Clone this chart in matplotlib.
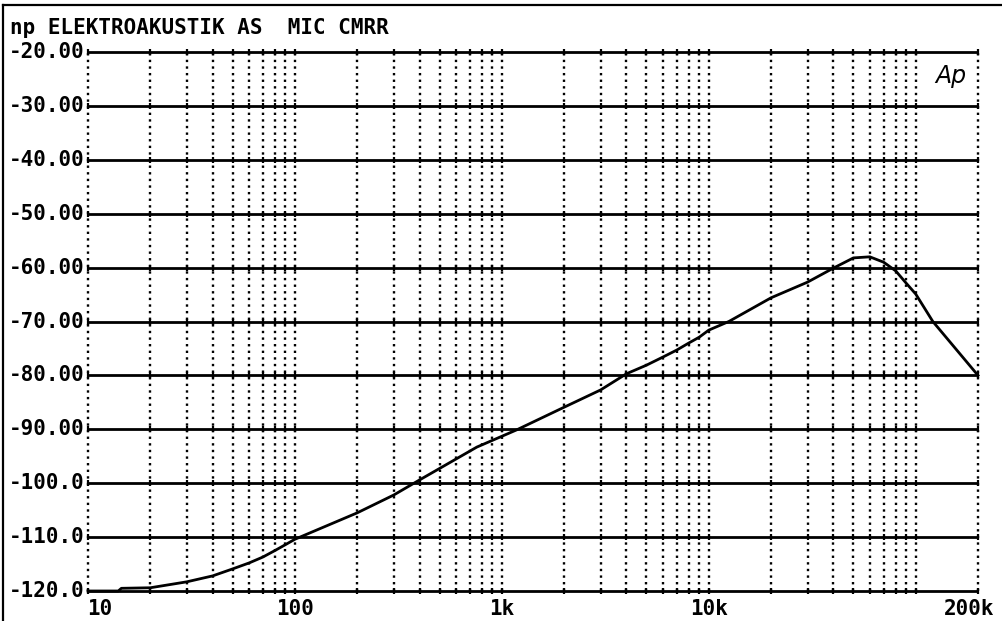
import numpy as np
import matplotlib.pyplot as plt
from matplotlib.lines import Line2D

# curve data (Hz, dB)
freq = [10, 14, 14.5, 20, 30, 40, 50, 60, 70, 80, 90, 100, 200, 300, 400, 757,
        1180, 2000, 3000, 4000, 5000, 6000, 7000, 8000, 9000, 10000, 12500,
        20000, 30000, 40000, 50000, 60000, 70000, 80000, 90000, 100000,
        121000, 200000]
level = [-120.0, -120.0, -119.5, -119.4, -118.3, -117.2, -115.9, -114.8, -113.7,
         -112.5, -111.4, -110.4, -105.5, -102.2, -99.4, -93.3,
         -90.1, -85.9, -82.7, -79.7, -78.1, -76.6, -75.3, -74.0, -72.9, -71.6, -70.0,
         -65.6, -62.7, -60.1, -58.2, -58.0, -59.0, -60.6, -62.9, -64.9,
         -70.0, -80.0]

title = "np ELEKTROAKUSTIK AS  MIC CMRR"
y_ticks = [-20, -30, -40, -50, -60, -70, -80, -90, -100, -110, -120]
y_labels = ["-20.00", "-30.00", "-40.00", "-50.00", "-60.00", "-70.00",
            "-80.00", "-90.00", "-100.0", "-110.0", "-120.0"]
x_ticks = [10, 100, 1000, 10000, 200000]
x_labels = ["10", "100", "1k", "10k", "200k"]

plt.rcParams['font.family'] = 'DejaVu Sans Mono'

W, H = 1002, 621
fig = plt.figure(figsize=(W / 100, H / 100), dpi=100)
ax = fig.add_axes([88 / W, (H - 591) / H, (978 - 88) / W, (591 - 52) / H])
ax.set_xscale('log')
ax.set_xlim(10, 200000)
ax.set_ylim(-120, -20)
for s in ax.spines.values():
    s.set_visible(False)
ax.set_xticks([])
ax.set_yticks([])
ax.minorticks_off()

# vertical dotted grid: 10,20..90 each decade up to 200k
vgrid = [m * 10 ** d for d in range(1, 5) for m in range(1, 10)] + [100000, 200000]
for f in vgrid:
    ax.axvline(f, color='black', lw=1.7, linestyle=(0, (1, 1.8)), zorder=1,
               clip_on=False)

# horizontal solid grid with small crosses at the dotted lines
for lv in y_ticks:
    ax.plot([10, 200000], [lv, lv], color='black', lw=2.0, zorder=2,
            solid_capstyle='butt', clip_on=False)
    ax.plot(vgrid, [lv] * len(vgrid), linestyle='none', marker='|', ms=5,
            mew=1.6, color='black', zorder=2, clip_on=False)

ax.plot(freq, level, color='black', lw=2.0, zorder=3, clip_on=False)

# tick labels
for v, lab in zip(y_ticks, y_labels):
    ax.text(-0.004, v, lab, transform=ax.get_yaxis_transform(), ha='right',
            va='center', fontsize=15, fontweight='bold')
for f, lab in zip(x_ticks, x_labels):
    off = 0
    if f == 10:
        off = 12 / (978 - 88)
    if f == 200000:
        off = -9 / (978 - 88)
    xf = (np.log10(f) - 1) / np.log10(20000) + off
    ax.text(xf, -0.033, lab, transform=ax.transAxes, ha='center', va='center',
            fontsize=15, fontweight='bold')

ax.text(0.969, 0.955, "Ap", transform=ax.transAxes, ha='center', va='center',
        fontsize=17, fontstyle='italic', family='DejaVu Sans')

fig.text(10 / W, 1 - 28 / H, title, ha='left', va='center', fontsize=15,
         fontweight='bold')

# outer frame (left and top edges)
fig.add_artist(Line2D([3 / W, 3 / W], [0, 1 - 5 / H], transform=fig.transFigure,
                      color='black', lw=1.6))
fig.add_artist(Line2D([3 / W, 1], [1 - 5 / H, 1 - 5 / H], transform=fig.transFigure,
                      color='black', lw=1.6))

fig.savefig('out.png', dpi=100)
